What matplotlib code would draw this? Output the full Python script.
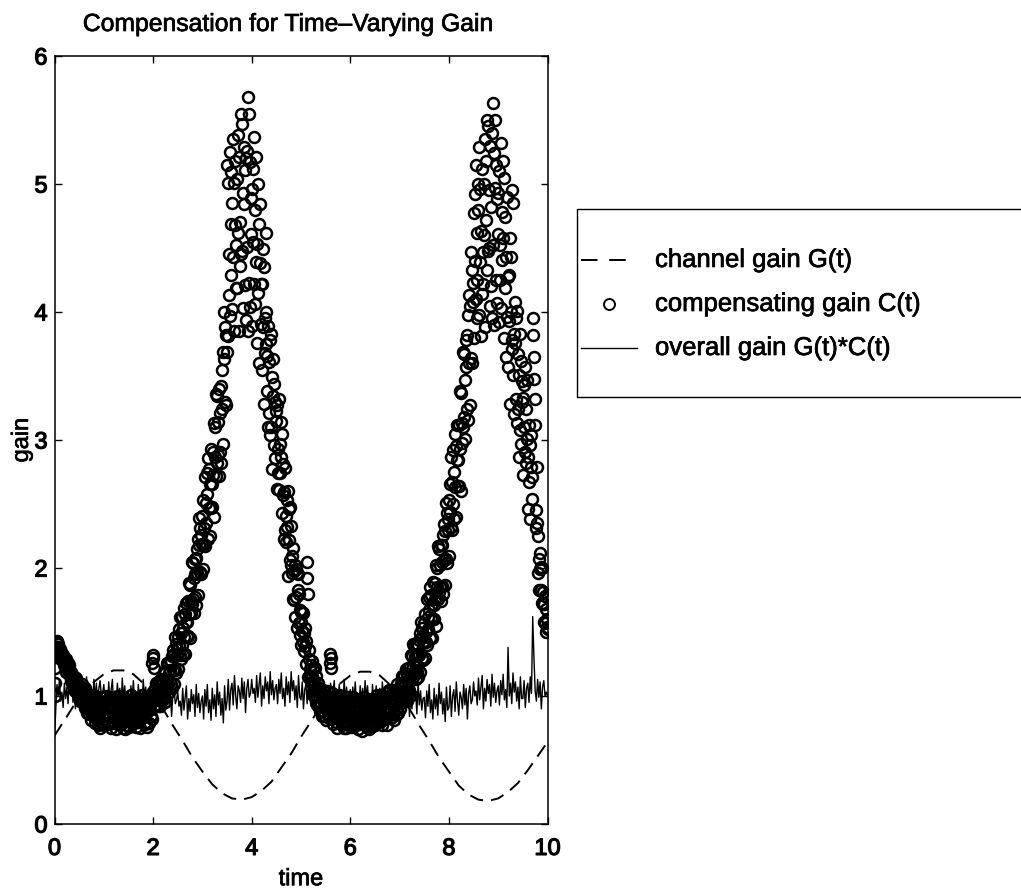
import numpy as np
import matplotlib
matplotlib.use("Agg")
import matplotlib.pyplot as plt
import matplotlib.patheffects as pe
from matplotlib.lines import Line2D
from matplotlib.patches import Rectangle

plt.rcParams['font.family'] = ['Liberation Sans', 'DejaVu Sans']

# ---------------- data ----------------
title = "Compensation for Time\u2013Varying Gain"
x_label = "time"
y_label = "gain"
x_ticks = [0, 2, 4, 6, 8, 10]
y_ticks = [0, 1, 2, 3, 4, 5, 6]
legend_labels = ["channel gain G(t)", "compensating gain C(t)", "overall gain G(t)*C(t)"]

# channel gain G(t), sampled every 0.2 time units from t = 0 to 10
channel_gain = [
    0.69, 0.81, 0.93, 1.03, 1.11, 1.17, 1.20, 1.20, 1.17, 1.10,
    1.01, 0.90, 0.77, 0.65, 0.52, 0.41, 0.31, 0.24, 0.20, 0.19,
    0.21, 0.26, 0.33, 0.44, 0.55, 0.68, 0.80, 0.92, 1.02, 1.10,
    1.16, 1.19, 1.19, 1.16, 1.09, 1.01, 0.90, 0.77, 0.65, 0.52,
    0.41, 0.30, 0.23, 0.19, 0.18, 0.20, 0.25, 0.32, 0.42, 0.53,
    0.64,
]

# compensating gain C(t), sampled every 0.01 time units from t = 0 to 10
# (one row = 0.1 time units)
compensating_gain = [
    1.00, 1.10, 1.22, 1.32, 1.38, 1.42, 1.43, 1.41, 1.38, 1.37,  # 0.0
    1.36, 1.31, 1.37, 1.32, 1.34, 1.28, 1.31, 1.32, 1.27, 1.28,
    1.24, 1.28, 1.25, 1.29, 1.19, 1.26, 1.22, 1.20, 1.26, 1.19,
    1.24, 1.16, 1.19, 1.12, 1.19, 1.16, 1.11, 1.16, 1.08, 1.15,
    1.10, 1.14, 1.04, 1.11, 1.14, 1.04, 1.10, 1.02, 1.07, 1.04,
    1.07, 0.96, 1.08, 1.02, 0.98, 1.09, 0.95, 1.02, 0.98, 1.05,  # 0.5
    1.01, 0.91, 1.06, 0.95, 1.01, 0.87, 0.96, 1.01, 0.90, 0.93,
    0.86, 0.97, 0.91, 1.01, 0.81, 0.98, 0.91, 0.86, 1.01, 0.87,
    1.00, 0.86, 0.92, 0.79, 0.97, 0.90, 0.81, 0.93, 0.77, 0.94,
    0.84, 0.95, 0.75, 0.91, 0.99, 0.80, 0.94, 0.78, 0.90, 0.86,
    0.94, 0.77, 0.96, 0.87, 0.82, 1.00, 0.79, 0.91, 0.84, 0.97,  # 1.0
    0.91, 0.78, 0.99, 0.84, 0.94, 0.75, 0.88, 0.96, 0.80, 0.86,
    0.79, 0.92, 0.86, 0.97, 0.74, 0.95, 0.87, 0.82, 1.00, 0.83,
    0.97, 0.83, 0.90, 0.77, 0.95, 0.88, 0.79, 0.92, 0.75, 0.94,
    0.85, 0.96, 0.74, 0.90, 0.98, 0.81, 0.93, 0.77, 0.91, 0.85,
    0.93, 0.76, 0.97, 0.88, 0.81, 1.01, 0.80, 0.90, 0.85, 0.96,  # 1.5
    0.92, 0.79, 0.98, 0.85, 0.95, 0.76, 0.89, 0.97, 0.81, 0.87,
    0.80, 0.93, 0.87, 0.98, 0.75, 0.96, 0.88, 0.83, 1.01, 0.84,
    0.98, 0.84, 0.91, 0.78, 0.96, 0.89, 0.80, 0.93, 0.76, 0.95,
    0.88, 0.97, 0.79, 0.94, 1.01, 0.84, 0.96, 0.82, 1.26, 1.32,
    1.30, 1.22, 1.05, 0.98, 0.93, 1.10, 0.92, 1.03, 0.97, 1.10,  # 2.0
    1.04, 0.92, 1.12, 0.99, 1.08, 0.92, 1.05, 1.13, 0.98, 1.04,
    0.98, 1.12, 1.06, 1.19, 0.95, 1.18, 1.10, 1.05, 1.26, 1.08,
    1.26, 1.09, 1.18, 1.03, 1.27, 1.20, 1.09, 1.27, 1.06, 1.31,
    1.20, 1.36, 1.09, 1.33, 1.46, 1.20, 1.41, 1.18, 1.37, 1.32,
    1.46, 1.21, 1.52, 1.39, 1.32, 1.62, 1.29, 1.49, 1.40, 1.62,  # 2.5
    1.53, 1.32, 1.69, 1.46, 1.64, 1.33, 1.58, 1.73, 1.47, 1.58,
    1.47, 1.74, 1.64, 1.88, 1.45, 1.87, 1.74, 1.65, 2.05, 1.72,
    2.04, 1.76, 1.92, 1.65, 2.07, 1.95, 1.77, 2.08, 1.71, 2.15,
    1.96, 2.23, 1.79, 2.18, 2.39, 1.97, 2.31, 1.95, 2.26, 2.19,
    2.41, 1.99, 2.53, 2.31, 2.19, 2.71, 2.17, 2.51, 2.35, 2.74,  # 3.0
    2.58, 2.23, 2.86, 2.47, 2.77, 2.25, 2.66, 2.93, 2.47, 2.66,
    2.48, 2.91, 2.73, 3.13, 2.40, 3.10, 2.87, 2.72, 3.36, 2.82,
    3.34, 2.88, 3.14, 2.72, 3.40, 3.21, 2.91, 3.42, 2.82, 3.55,
    3.24, 3.69, 2.97, 3.63, 4.00, 3.30, 3.88, 3.27, 3.82, 3.69,
    5.15, 3.81, 5.01, 4.45, 4.13, 5.25, 3.97, 4.69, 4.29, 5.09,  # 3.5
    4.85, 4.02, 5.35, 4.43, 5.01, 3.85, 4.68, 5.18, 4.19, 4.52,
    4.19, 5.04, 4.62, 5.38, 3.85, 5.21, 4.70, 4.36, 5.55, 4.45,
    5.47, 4.48, 4.93, 4.03, 5.29, 4.84, 4.21, 5.11, 3.94, 5.20,
    4.51, 5.26, 3.85, 5.68, 5.55, 4.23, 5.17, 4.04, 4.89, 4.61,
    4.96, 3.89, 5.12, 4.55, 4.22, 5.37, 4.06, 4.80, 4.39, 5.21,  # 4.0
    4.53, 3.76, 5.00, 4.15, 4.69, 3.60, 4.38, 4.84, 3.91, 4.22,
    3.55, 4.22, 3.88, 4.49, 3.28, 4.35, 3.95, 3.68, 4.62, 3.75,
    4.00, 3.38, 3.66, 3.10, 3.89, 3.61, 3.21, 3.78, 3.04, 3.83,
    3.10, 3.49, 2.77, 3.34, 3.63, 2.96, 3.44, 2.86, 3.30, 3.15,
    3.23, 2.62, 3.27, 2.93, 2.74, 3.32, 2.61, 2.97, 2.74, 3.14,  # 4.5
    2.87, 2.43, 3.05, 2.57, 2.81, 2.23, 2.59, 2.78, 2.30, 2.41,
    2.20, 2.53, 2.32, 2.60, 1.94, 2.46, 2.22, 2.06, 2.48, 2.02,
    2.33, 1.96, 2.09, 1.76, 2.16, 1.98, 1.75, 2.02, 1.62, 1.99,
    1.77, 1.96, 1.53, 1.83, 1.95, 1.57, 1.80, 1.48, 1.67, 1.58,
    1.66, 1.40, 1.66, 1.51, 1.42, 1.65, 1.35, 1.49, 1.39, 1.53,  # 5.0
    1.43, 1.25, 2.05, 1.92, 1.80, 1.15, 1.29, 1.36, 1.16, 1.21,
    1.11, 1.24, 1.16, 1.27, 1.01, 1.21, 1.12, 1.05, 1.22, 1.04,
    1.16, 1.01, 1.07, 0.93, 1.10, 1.03, 0.93, 1.05, 0.88, 1.04,
    0.94, 1.03, 0.84, 0.98, 1.05, 0.88, 0.99, 0.84, 0.95, 0.91,
    0.97, 0.81, 1.00, 0.91, 0.86, 1.04, 0.83, 0.95, 1.26, 1.33,  # 5.5
    1.30, 1.22, 1.02, 0.87, 0.97, 0.78, 0.91, 0.99, 0.83, 0.89,
    0.80, 0.93, 0.87, 0.98, 0.75, 0.96, 0.88, 0.83, 1.01, 0.84,
    0.98, 0.84, 0.90, 0.77, 0.95, 0.88, 0.79, 0.92, 0.75, 0.94,
    0.84, 0.95, 0.75, 0.91, 0.99, 0.80, 0.94, 0.78, 0.90, 0.86,
    0.93, 0.76, 0.96, 0.86, 0.81, 0.99, 0.78, 0.90, 0.83, 0.96,  # 6.0
    0.90, 0.77, 0.98, 0.83, 0.93, 0.74, 0.87, 0.95, 0.79, 0.85,
    0.78, 0.91, 0.85, 0.96, 0.73, 0.94, 0.86, 0.81, 0.99, 0.82,
    0.96, 0.82, 0.88, 0.76, 0.94, 0.87, 0.78, 0.91, 0.74, 0.93,
    0.85, 0.94, 0.76, 0.90, 0.98, 0.81, 0.93, 0.77, 0.89, 0.87,
    0.95, 0.77, 0.97, 0.88, 0.83, 1.01, 0.80, 0.92, 0.85, 0.98,  # 6.5
    0.93, 0.80, 1.01, 0.86, 0.96, 0.77, 0.90, 0.98, 0.82, 0.88,
    0.83, 0.96, 0.90, 1.02, 0.77, 0.99, 0.91, 0.86, 1.05, 0.87,
    1.05, 0.90, 0.97, 0.83, 1.02, 0.95, 0.86, 0.98, 0.81, 1.01,
    0.94, 1.05, 0.85, 1.01, 1.09, 0.90, 1.04, 0.87, 1.00, 0.96,
    1.07, 0.90, 1.10, 1.02, 0.97, 1.16, 0.95, 1.08, 1.02, 1.16,  # 7.0
    1.10, 0.96, 1.21, 1.05, 1.17, 0.96, 1.12, 1.22, 1.04, 1.11,
    1.05, 1.23, 1.15, 1.32, 1.01, 1.31, 1.21, 1.15, 1.41, 1.18,
    1.40, 1.20, 1.31, 1.13, 1.41, 1.32, 1.19, 1.40, 1.15, 1.44,
    1.32, 1.49, 1.19, 1.45, 1.58, 1.30, 1.53, 1.28, 1.48, 1.43,
    1.57, 1.30, 1.64, 1.50, 1.42, 1.76, 1.40, 1.62, 1.52, 1.77,  # 7.5
    1.67, 1.45, 1.85, 1.60, 1.79, 1.45, 1.72, 1.89, 1.60, 1.71,
    1.60, 1.88, 1.76, 2.02, 1.55, 2.00, 1.85, 1.76, 2.17, 1.81,
    2.15, 1.85, 2.02, 1.74, 2.18, 2.05, 1.86, 2.18, 1.80, 2.26,
    2.06, 2.34, 1.87, 2.29, 2.51, 2.07, 2.43, 2.04, 2.38, 2.30,
    2.53, 2.09, 2.66, 2.44, 2.32, 2.87, 2.30, 2.67, 2.50, 2.92,  # 8.0
    2.75, 2.38, 3.05, 2.63, 2.95, 2.40, 2.84, 3.12, 2.64, 2.84,
    2.64, 3.12, 2.93, 3.38, 2.60, 3.37, 3.13, 2.98, 3.69, 3.10,
    3.67, 3.18, 3.47, 3.01, 3.78, 3.57, 3.24, 3.82, 3.16, 3.98,
    3.60, 4.13, 3.27, 4.05, 4.47, 3.64, 4.33, 3.60, 4.23, 4.08,
    4.77, 3.80, 4.92, 4.40, 4.10, 5.15, 3.95, 4.62, 4.25, 5.00,  # 8.5
    4.80, 3.98, 5.29, 4.39, 4.96, 3.81, 4.63, 5.12, 4.14, 4.47,
    4.22, 5.00, 4.60, 5.35, 3.88, 5.18, 4.72, 4.33, 5.50, 4.48,
    5.45, 4.50, 4.95, 4.05, 5.30, 4.82, 4.20, 5.40, 3.95, 5.63,
    4.52, 5.24, 3.90, 4.97, 5.50, 4.25, 5.15, 4.07, 4.88, 4.61,
    4.93, 3.92, 5.10, 4.52, 4.25, 5.32, 4.03, 4.78, 4.41, 5.18,  # 9.0
    4.58, 3.80, 5.05, 4.19, 4.74, 3.65, 4.43, 4.90, 3.96, 4.27,
    3.57, 4.29, 3.93, 4.58, 3.28, 4.43, 4.00, 3.71, 4.95, 3.78,
    4.85, 3.51, 3.83, 3.20, 4.08, 3.76, 3.32, 3.95, 3.13, 4.01,
    3.24, 3.67, 2.87, 3.51, 3.83, 3.08, 3.62, 2.97, 3.46, 3.30,
    3.33, 2.73, 3.43, 3.10, 2.91, 3.57, 2.82, 3.24, 3.01, 3.47,  # 9.5
    2.87, 2.46, 3.12, 2.67, 2.96, 2.38, 2.79, 3.04, 2.54, 2.71,
    3.95, 3.82, 3.65, 3.48, 3.32, 3.12, 2.45, 2.31, 2.79, 2.35,
    2.25, 1.96, 2.07, 1.83, 2.12, 1.99, 1.83, 2.01, 1.73, 2.00,
    1.72, 1.81, 1.58, 1.72, 1.78, 1.57, 1.68, 1.50, 1.60, 1.54,
    1.52,                                                        # 10.0
]

# overall gain G(t)*C(t), sampled every 0.025 time units from t = 0 to 10
overall_gain = [
    0.68, 0.88, 1.09, 1.00, 1.13, 0.96, 1.03, 0.91, 1.10, 0.98,
    1.07, 0.94, 1.14, 1.01, 1.08, 0.95, 1.04, 0.90, 1.12, 0.97,
    0.96, 1.12, 0.89, 1.05, 1.09, 0.94, 1.15, 1.01, 0.91, 1.08,
    1.03, 0.95, 1.13, 0.98, 1.10, 0.88, 1.06, 1.12, 0.99, 1.02,
    1.09, 0.98, 1.02, 0.92, 1.11, 0.96, 1.05, 1.13, 0.89, 1.04,
    0.94, 1.10, 1.00, 1.06, 0.91, 1.14, 0.97, 1.08, 0.93, 1.02,
    1.04, 0.90, 1.08, 0.97, 1.12, 0.94, 1.01, 0.88, 1.09, 0.96,
    1.05, 0.91, 1.13, 0.99, 1.07, 0.92, 1.03, 0.87, 1.10, 0.95,
    0.92, 1.06, 0.85, 1.00, 1.04, 0.89, 1.09, 0.96, 0.87, 1.02,
    0.98, 0.90, 1.07, 0.93, 1.05, 0.84, 1.01, 1.06, 0.94, 0.97,
    1.03, 0.92, 0.96, 0.85, 1.06, 0.89, 0.99, 1.08, 0.82, 0.98,
    0.88, 1.05, 0.94, 1.01, 0.84, 1.09, 0.91, 1.02, 0.87, 0.96,
    1.00, 0.82, 1.05, 0.92, 1.09, 0.87, 0.97, 0.81, 1.06, 0.90,
    1.01, 0.84, 1.11, 0.93, 1.03, 0.85, 0.98, 0.79, 1.08, 0.89,
    0.96, 1.13, 0.89, 1.05, 1.10, 0.93, 1.16, 1.00, 0.90, 1.08,
    1.04, 0.95, 1.14, 0.98, 1.11, 0.87, 1.06, 1.13, 0.99, 1.02,
    1.13, 1.02, 1.06, 0.95, 1.16, 0.99, 1.09, 1.18, 0.92, 1.08,
    0.98, 1.15, 1.04, 1.11, 0.94, 1.19, 1.01, 1.12, 0.97, 1.06,
    1.09, 0.94, 1.13, 1.02, 1.18, 0.98, 1.06, 0.92, 1.15, 1.01,
    1.11, 0.95, 1.19, 1.04, 1.12, 0.97, 1.08, 0.91, 1.16, 0.99,
    0.97, 1.11, 0.90, 1.05, 1.09, 0.94, 1.14, 1.01, 0.92, 1.07,
    1.03, 0.96, 1.12, 0.98, 1.10, 0.89, 1.06, 1.11, 1.00, 1.02,
    1.08, 0.97, 1.01, 0.91, 1.10, 0.95, 1.04, 1.12, 0.88, 1.03,
    0.93, 1.09, 0.99, 1.05, 0.90, 1.13, 0.96, 1.07, 0.92, 1.01,
    1.05, 0.91, 1.07, 0.96, 1.11, 0.93, 1.02, 0.89, 1.08, 0.95,
    1.06, 0.90, 1.12, 0.98, 1.08, 0.93, 1.02, 0.86, 1.09, 0.96,
    0.94, 1.08, 0.87, 1.02, 1.06, 0.91, 1.11, 0.98, 0.89, 1.04,
    1.00, 0.92, 1.09, 0.95, 1.07, 0.86, 1.03, 1.08, 0.96, 0.99,
    1.05, 0.94, 0.98, 0.87, 1.08, 0.91, 1.01, 1.10, 0.84, 1.00,
    0.90, 1.07, 0.96, 1.03, 0.86, 1.11, 0.93, 1.04, 0.89, 0.98,
    0.99, 0.83, 1.04, 0.92, 1.09, 0.87, 0.97, 0.82, 1.06, 0.90,
    1.01, 0.85, 1.10, 0.94, 1.03, 0.86, 0.98, 0.80, 1.07, 0.89,
    0.91, 1.08, 0.84, 1.00, 1.05, 0.88, 1.11, 0.96, 0.85, 1.03,
    0.99, 0.90, 1.09, 0.93, 1.06, 0.82, 1.02, 1.08, 0.94, 0.97,
    1.11, 1.00, 1.04, 0.93, 1.14, 0.97, 1.07, 1.16, 0.90, 1.06,
    0.96, 1.13, 1.02, 1.09, 0.92, 1.17, 0.99, 1.10, 0.95, 1.04,
    1.08, 0.93, 1.12, 1.01, 1.17, 0.97, 1.05, 0.91, 1.38, 1.00,
    1.10, 0.94, 1.18, 1.03, 1.11, 0.96, 1.07, 0.90, 1.15, 0.98,
    0.98, 1.12, 0.91, 1.06, 1.10, 0.95, 1.15, 1.02, 1.62, 1.30,
    1.04, 0.96, 1.13, 0.99, 1.11, 0.90, 1.07, 1.12, 1.00, 1.03,
    1.00,
]

t_channel = np.linspace(0, 10, len(channel_gain))
t_comp = np.linspace(0, 10, len(compensating_gain))
t_overall = np.linspace(0, 10, len(overall_gain))

# ---------------- figure ----------------
W, H = 1021, 890
fig = plt.figure(figsize=(W / 100, H / 100), dpi=100)
ax_l, ax_r, ax_t, ax_b = 54.5, 547.5, 56, 824
ax = fig.add_axes([ax_l / W, 1 - ax_b / H, (ax_r - ax_l) / W, (ax_b - ax_t) / H])

bold_fx = [pe.withStroke(linewidth=0.9, foreground='black')]
semi_fx = [pe.withStroke(linewidth=0.5, foreground='black')]

lw_dash = 1.4
dash_pat = (7.0, 4.2)
ms_c, mew_c = 7.9, 1.8

ax.plot(t_channel, channel_gain, color='black', lw=lw_dash, dashes=dash_pat)
ax.plot(t_comp, compensating_gain, linestyle='none', marker='o', ms=ms_c,
        mfc='none', mec='black', mew=mew_c)
ax.plot(t_overall, overall_gain, color='black', lw=1.0)

ax.set_xlim(0, 10)
ax.set_ylim(0, 6)
ax.set_xticks(x_ticks)
ax.set_yticks(y_ticks)
ax.set_xticklabels([str(v) for v in x_ticks])
ax.set_yticklabels([str(v) for v in y_ticks])

for s in ax.spines.values():
    s.set_linewidth(1.1)
ax.tick_params(direction='in', length=5, width=1.0, top=True, right=True,
               labelsize=17)
ax.tick_params(axis='x', pad=10)
ax.tick_params(axis='y', pad=5)
for lab in ax.get_xticklabels() + ax.get_yticklabels():
    lab.set_path_effects(bold_fx)

ax.set_xlabel(x_label, fontsize=17, labelpad=6, path_effects=semi_fx)
ax.set_ylabel(y_label, fontsize=17, labelpad=1, path_effects=semi_fx)

fig.text(288 / W, 1 - 24 / H, title, fontsize=17.8, ha='center', va='center',
         path_effects=semi_fx)

# ---------------- legend (drawn box, extends past right edge) ----------------
def fx(px):
    return px / W

def fy(py):
    return 1 - py / H

box_l, box_t, box_b = 577, 209, 397
fig.add_artist(Rectangle((fx(box_l), fy(box_b)), fx(1040 - box_l), fy(box_t) - fy(box_b),
                         transform=fig.transFigure, fill=False, edgecolor='black',
                         lw=1.0, clip_on=False))
rows = [260, 304, 348]
h0, h1 = 581, 637
text_x = 655
fig.add_artist(Line2D([fx(h0), fx(h1)], [fy(rows[0])] * 2, transform=fig.transFigure,
                      color='black', lw=lw_dash, dashes=(8.5, 6.0)))
fig.add_artist(Line2D([fx((h0 + h1) / 2)], [fy(rows[1])], transform=fig.transFigure,
                      linestyle='none', marker='o', ms=ms_c, mfc='none', mec='black',
                      mew=1.4))
fig.add_artist(Line2D([fx(h0), fx(h1)], [fy(rows[2])] * 2, transform=fig.transFigure,
                      color='black', lw=1.0))
for r, lab in zip(rows, legend_labels):
    fig.text(fx(text_x), fy(r), lab, fontsize=18.5, ha='left', va='center',
             path_effects=semi_fx)

fig.savefig("out.png", dpi=100)
